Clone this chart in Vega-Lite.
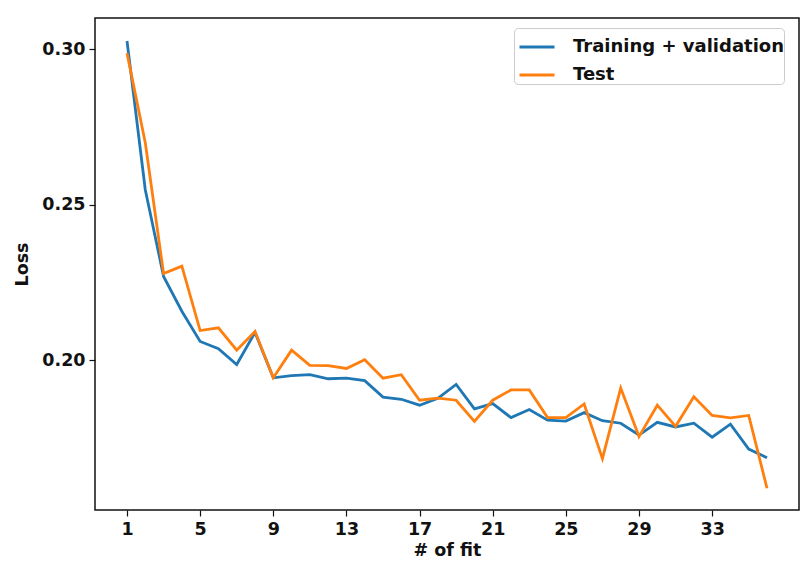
{
  "$schema": "https://vega.github.io/schema/vega-lite/v6.json",
  "width": 704,
  "height": 492,
  "autosize": {"type": "none"},
  "padding": {"left": 95, "top": 18, "right": 2, "bottom": 64},
  "background": "white",
  "config": {
    "font": "DejaVu Sans",
    "view": {"stroke": "#111", "strokeWidth": 1.5},
    "axis": {
      "grid": false, "domain": false, "tickColor": "#111", "tickSize": 6, "tickWidth": 1.2,
      "labelFont": "DejaVu Sans", "labelFontWeight": "bold", "labelFontSize": 17.5, "labelColor": "#111", "labelPadding": 4,
      "titleFont": "DejaVu Sans", "titleFontWeight": "bold", "titleFontSize": 17.5, "titleColor": "#111"
    }
  },
  "data": {"values": [
    {"fit": 1, "series": "Training + validation", "loss": 0.3026},
    {"fit": 2, "series": "Training + validation", "loss": 0.2548},
    {"fit": 3, "series": "Training + validation", "loss": 0.2269},
    {"fit": 4, "series": "Training + validation", "loss": 0.2157},
    {"fit": 5, "series": "Training + validation", "loss": 0.2060},
    {"fit": 6, "series": "Training + validation", "loss": 0.2037},
    {"fit": 7, "series": "Training + validation", "loss": 0.1986},
    {"fit": 8, "series": "Training + validation", "loss": 0.2089},
    {"fit": 9, "series": "Training + validation", "loss": 0.1943},
    {"fit": 10, "series": "Training + validation", "loss": 0.1950},
    {"fit": 11, "series": "Training + validation", "loss": 0.1953},
    {"fit": 12, "series": "Training + validation", "loss": 0.1940},
    {"fit": 13, "series": "Training + validation", "loss": 0.1942},
    {"fit": 14, "series": "Training + validation", "loss": 0.1934},
    {"fit": 15, "series": "Training + validation", "loss": 0.1881},
    {"fit": 16, "series": "Training + validation", "loss": 0.1874},
    {"fit": 17, "series": "Training + validation", "loss": 0.1855},
    {"fit": 18, "series": "Training + validation", "loss": 0.1877},
    {"fit": 19, "series": "Training + validation", "loss": 0.1922},
    {"fit": 20, "series": "Training + validation", "loss": 0.1843},
    {"fit": 21, "series": "Training + validation", "loss": 0.1860},
    {"fit": 22, "series": "Training + validation", "loss": 0.1815},
    {"fit": 23, "series": "Training + validation", "loss": 0.1841},
    {"fit": 24, "series": "Training + validation", "loss": 0.1807},
    {"fit": 25, "series": "Training + validation", "loss": 0.1804},
    {"fit": 26, "series": "Training + validation", "loss": 0.1831},
    {"fit": 27, "series": "Training + validation", "loss": 0.1805},
    {"fit": 28, "series": "Training + validation", "loss": 0.1797},
    {"fit": 29, "series": "Training + validation", "loss": 0.1759},
    {"fit": 30, "series": "Training + validation", "loss": 0.1800},
    {"fit": 31, "series": "Training + validation", "loss": 0.1785},
    {"fit": 32, "series": "Training + validation", "loss": 0.1797},
    {"fit": 33, "series": "Training + validation", "loss": 0.1752},
    {"fit": 34, "series": "Training + validation", "loss": 0.1794},
    {"fit": 35, "series": "Training + validation", "loss": 0.1714},
    {"fit": 36, "series": "Training + validation", "loss": 0.1686},
    {"fit": 1, "series": "Test", "loss": 0.2987},
    {"fit": 2, "series": "Test", "loss": 0.2699},
    {"fit": 3, "series": "Test", "loss": 0.2278},
    {"fit": 4, "series": "Test", "loss": 0.2302},
    {"fit": 5, "series": "Test", "loss": 0.2095},
    {"fit": 6, "series": "Test", "loss": 0.2104},
    {"fit": 7, "series": "Test", "loss": 0.2032},
    {"fit": 8, "series": "Test", "loss": 0.2092},
    {"fit": 9, "series": "Test", "loss": 0.1943},
    {"fit": 10, "series": "Test", "loss": 0.2032},
    {"fit": 11, "series": "Test", "loss": 0.1983},
    {"fit": 12, "series": "Test", "loss": 0.1982},
    {"fit": 13, "series": "Test", "loss": 0.1973},
    {"fit": 14, "series": "Test", "loss": 0.2001},
    {"fit": 15, "series": "Test", "loss": 0.1942},
    {"fit": 16, "series": "Test", "loss": 0.1953},
    {"fit": 17, "series": "Test", "loss": 0.1871},
    {"fit": 18, "series": "Test", "loss": 0.1878},
    {"fit": 19, "series": "Test", "loss": 0.1871},
    {"fit": 20, "series": "Test", "loss": 0.1803},
    {"fit": 21, "series": "Test", "loss": 0.1871},
    {"fit": 22, "series": "Test", "loss": 0.1904},
    {"fit": 23, "series": "Test", "loss": 0.1904},
    {"fit": 24, "series": "Test", "loss": 0.1815},
    {"fit": 25, "series": "Test", "loss": 0.1815},
    {"fit": 26, "series": "Test", "loss": 0.1859},
    {"fit": 27, "series": "Test", "loss": 0.1683},
    {"fit": 28, "series": "Test", "loss": 0.1910},
    {"fit": 29, "series": "Test", "loss": 0.1754},
    {"fit": 30, "series": "Test", "loss": 0.1855},
    {"fit": 31, "series": "Test", "loss": 0.1787},
    {"fit": 32, "series": "Test", "loss": 0.1882},
    {"fit": 33, "series": "Test", "loss": 0.1822},
    {"fit": 34, "series": "Test", "loss": 0.1814},
    {"fit": 35, "series": "Test", "loss": 0.1822},
    {"fit": 36, "series": "Test", "loss": 0.1588}
  ]},
  "mark": {"type": "line", "strokeWidth": 2.8, "clip": true},
  "encoding": {
    "x": {
      "field": "fit", "type": "quantitative", "title": "# of fit",
      "scale": {"domain": [-0.75, 37.75], "nice": false, "zero": false},
      "axis": {"values": [1, 5, 9, 13, 17, 21, 25, 29, 33], "format": "d", "titlePadding": 4}
    },
    "y": {
      "field": "loss", "type": "quantitative", "title": "Loss",
      "scale": {"domain": [0.1518, 0.31], "nice": false, "zero": false},
      "axis": {"values": [0.20, 0.25, 0.30], "format": ".2f", "titlePadding": 10}
    },
    "color": {
      "field": "series", "type": "nominal",
      "sort": ["Training + validation", "Test"],
      "scale": {"domain": ["Training + validation", "Test"], "range": ["#1f77b4", "#ff7f0e"]},
      "legend": {
        "title": null, "orient": "none", "legendX": 419, "legendY": 10,
        "symbolType": "stroke", "symbolSize": 1225, "symbolStrokeWidth": 3, "symbolOffset": 4,
        "labelFont": "DejaVu Sans", "labelFontWeight": "bold", "labelFontSize": 18, "labelColor": "#111",
        "labelLimit": 400, "rowPadding": -8, "labelOffset": 17,
        "padding": 0, "strokeColor": "#ccc", "fillColor": "white", "cornerRadius": 4
      }
    }
  }
}
